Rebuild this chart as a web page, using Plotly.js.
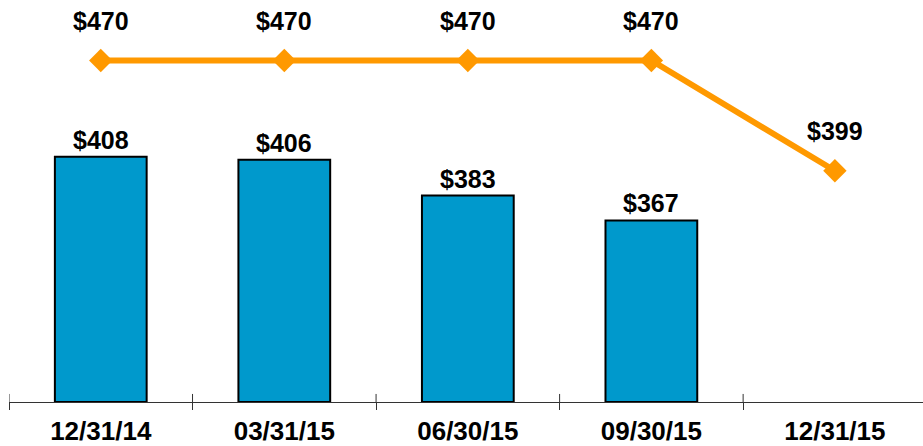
<!DOCTYPE html>
<html>
<head>
<meta charset="utf-8">
<script src="https://cdn.plot.ly/plotly-3.0.1.min.js"></script>
<style>html,body{margin:0;padding:0;background:#fff;}#chart{width:923px;height:446px;}</style>
</head>
<body>
<div id="chart"></div>
<script>
const categories = ["12/31/14", "03/31/15", "06/30/15", "09/30/15", "12/31/15"];
const barValues = [408, 406, 383, 367, null];
const lineValues = [470, 470, 470, 470, 399];

const FONT = "Liberation Sans, Arial, sans-serif";
const BASE = 250;

const barTrace = {
  type: "bar",
  x: categories,
  y: barValues.map(v => v == null ? null : v - BASE),
  base: BASE,
  width: 0.5,
  marker: {color: "#0099CC", line: {color: "#000000", width: 2}},
  hoverinfo: "skip"
};

const lineTrace = {
  type: "scatter",
  mode: "lines+markers",
  x: categories,
  y: lineValues,
  line: {color: "#FF9900", width: 6},
  marker: {symbol: "diamond", size: 18, color: "#FF9900"},
  hoverinfo: "skip"
};

const annotations = [];
categories.forEach((c, i) => {
  if (barValues[i] != null) {
    annotations.push({x: c, y: barValues[i], xref: "x", yref: "y", text: "$" + barValues[i],
      showarrow: false, yanchor: "middle", yshift: 17,
      font: {family: FONT, size: 25, color: "#000", weight: "bold"}});
  }
  annotations.push({x: c, y: lineValues[i], xref: "x", yref: "y", text: "$" + lineValues[i],
    showarrow: false, yanchor: "middle", yshift: 40,
    font: {family: FONT, size: 25, color: "#000", weight: "bold"}});
});

const shapes = [];
for (let i = 0; i < categories.length; i++) {
  shapes.push({type: "line", xref: "x", yref: "paper", x0: i - 0.5, x1: i - 0.5, y0: 0, y1: 0.02,
    line: {color: "#333", width: 1}});
}

const layout = {
  width: 923, height: 446,
  margin: {l: 9, r: 0, t: 0, b: 44},
  paper_bgcolor: "#fff", plot_bgcolor: "#fff",
  showlegend: false,
  xaxis: {
    type: "category", range: [-0.5, 4.48],
    showgrid: false, zeroline: false,
    showline: true, linecolor: "#333", linewidth: 1,
    ticks: "outside", tickson: "boundaries", ticklen: 7, tickcolor: "#333", tickwidth: 1,
    tickfont: {family: FONT, size: 26, color: "#000", weight: "bold"},
    ticklabelstandoff: 6
  },
  yaxis: {range: [BASE, 509], visible: false, showgrid: false, zeroline: false},
  annotations: annotations,
  shapes: shapes
};

Plotly.newPlot("chart", [barTrace, lineTrace], layout, {displayModeBar: false, staticPlot: true});
</script>
</body>
</html>
